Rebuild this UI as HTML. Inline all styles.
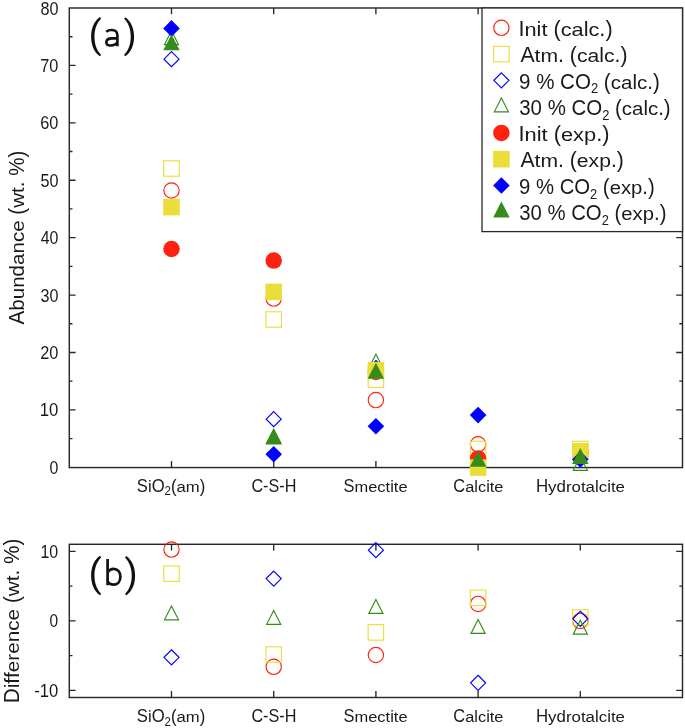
<!DOCTYPE html>
<html><head><meta charset="utf-8"><style>
html,body{margin:0;padding:0;background:#fff;}
body{width:685px;height:728px;overflow:hidden;}
svg{display:block;will-change:transform;}
text{font-family:"Liberation Sans", sans-serif;white-space:pre;font-kerning:none;}
</style></head><body>
<svg width="685" height="728" viewBox="0 0 685 728">
<rect width="685" height="728" fill="#fff"/>
<path d="M69.3 409.89h6.3M682.5 409.89h-6.3" stroke="#282828" stroke-width="1.35"/><path d="M69.3 352.48h6.3M682.5 352.48h-6.3" stroke="#282828" stroke-width="1.35"/><path d="M69.3 295.06h6.3M682.5 295.06h-6.3" stroke="#282828" stroke-width="1.35"/><path d="M69.3 237.65h6.3M682.5 237.65h-6.3" stroke="#282828" stroke-width="1.35"/><path d="M69.3 180.24h6.3M682.5 180.24h-6.3" stroke="#282828" stroke-width="1.35"/><path d="M69.3 122.82h6.3M682.5 122.82h-6.3" stroke="#282828" stroke-width="1.35"/><path d="M69.3 65.41h6.3M682.5 65.41h-6.3" stroke="#282828" stroke-width="1.35"/><path d="M69.3 438.59h3.2M682.5 438.59h-3.2" stroke="#282828" stroke-width="1.35"/><path d="M69.3 381.18h3.2M682.5 381.18h-3.2" stroke="#282828" stroke-width="1.35"/><path d="M69.3 323.77h3.2M682.5 323.77h-3.2" stroke="#282828" stroke-width="1.35"/><path d="M69.3 266.36h3.2M682.5 266.36h-3.2" stroke="#282828" stroke-width="1.35"/><path d="M69.3 208.94h3.2M682.5 208.94h-3.2" stroke="#282828" stroke-width="1.35"/><path d="M69.3 151.53h3.2M682.5 151.53h-3.2" stroke="#282828" stroke-width="1.35"/><path d="M69.3 94.12h3.2M682.5 94.12h-3.2" stroke="#282828" stroke-width="1.35"/><path d="M69.3 36.71h3.2M682.5 36.71h-3.2" stroke="#282828" stroke-width="1.35"/><path d="M171.5 8v6.3M171.5 467.3v-6.3" stroke="#282828" stroke-width="1.35"/><path d="M273.7 8v6.3M273.7 467.3v-6.3" stroke="#282828" stroke-width="1.35"/><path d="M375.9 8v6.3M375.9 467.3v-6.3" stroke="#282828" stroke-width="1.35"/><path d="M478.1 8v6.3M478.1 467.3v-6.3" stroke="#282828" stroke-width="1.35"/><path d="M580.3 8v6.3M580.3 467.3v-6.3" stroke="#282828" stroke-width="1.35"/><rect x="69.3" y="8" width="613.2" height="459.55" fill="none" stroke="#282828" stroke-width="1.45"/><rect x="482" y="8" width="200.5" height="223.6" fill="#fff" stroke="#282828" stroke-width="1.3"/><g transform="translate(49.58,473.9) scale(0.9085,1)" fill="#1a1a1a"><text x="0" y="0" font-size="17.5">0</text></g><g transform="translate(39.82,416.49) scale(0.9571,1)" fill="#1a1a1a"><text x="0" y="0" font-size="17.5">10</text></g><g transform="translate(40.28,359.08) scale(0.9329,1)" fill="#1a1a1a"><text x="0" y="0" font-size="17.5">20</text></g><g transform="translate(40.49,301.66) scale(0.9219,1)" fill="#1a1a1a"><text x="0" y="0" font-size="17.5">30</text></g><g transform="translate(40.74,244.25) scale(0.9086,1)" fill="#1a1a1a"><text x="0" y="0" font-size="17.5">40</text></g><g transform="translate(40.45,186.84) scale(0.9236,1)" fill="#1a1a1a"><text x="0" y="0" font-size="17.5">50</text></g><g transform="translate(40.27,129.42) scale(0.9333,1)" fill="#1a1a1a"><text x="0" y="0" font-size="17.5">60</text></g><g transform="translate(40.26,72.01) scale(0.9338,1)" fill="#1a1a1a"><text x="0" y="0" font-size="17.5">70</text></g><g transform="translate(40.4,14.6) scale(0.9267,1)" fill="#1a1a1a"><text x="0" y="0" font-size="17.5">80</text></g><g transform="translate(136.84,491.7) scale(0.9524,1)" fill="#1a1a1a"><text x="0" y="0" font-size="17.5">S</text><text transform="translate(11.67,0) scale(1,0.92)" font-size="17.5">i</text><text x="15.56" y="0" font-size="17.5">O</text><text x="29.17" y="3.6" font-size="12">2</text><text x="35.85" y="0" font-size="17.5">(</text><text transform="translate(41.67,0) scale(1,0.85)" font-size="17.5">am</text><text x="65.98" y="0" font-size="17.5">)</text></g><g transform="translate(251.38,491.7) scale(0.9268,1)" fill="#1a1a1a"><text x="0" y="0" font-size="17.5">C-S-H</text></g><g transform="translate(343.55,491.7) scale(0.9398,1)" fill="#1a1a1a"><text x="0" y="0" font-size="17.5">S</text><text transform="translate(11.67,0) scale(1,0.85)" font-size="17.5">mec</text><text transform="translate(44.73,0) scale(1,0.83)" font-size="17.5">t</text><text transform="translate(49.59,0) scale(1,0.92)" font-size="17.5">i</text><text transform="translate(53.48,0) scale(1,0.83)" font-size="17.5">t</text><text transform="translate(58.34,0) scale(1,0.85)" font-size="17.5">e</text></g><g transform="translate(453.37,491.7) scale(0.9358,1)" fill="#1a1a1a"><text x="0" y="0" font-size="17.5">C</text><text transform="translate(12.64,0) scale(1,0.85)" font-size="17.5">a</text><text transform="translate(22.37,0) scale(1,0.95)" font-size="17.5">l</text><text transform="translate(26.26,0) scale(1,0.85)" font-size="17.5">c</text><text transform="translate(35.01,0) scale(1,0.92)" font-size="17.5">i</text><text transform="translate(38.9,0) scale(1,0.83)" font-size="17.5">t</text><text transform="translate(43.76,0) scale(1,0.85)" font-size="17.5">e</text></g><g transform="translate(535.92,491.7) scale(0.9636,1)" fill="#1a1a1a"><text x="0" y="0" font-size="17.5">H</text><text transform="translate(12.64,0) scale(1,0.85)" font-size="17.5">y</text><text transform="translate(21.39,0) scale(1,0.95)" font-size="17.5">d</text><text transform="translate(31.12,0) scale(1,0.85)" font-size="17.5">ro</text><text transform="translate(46.68,0) scale(1,0.83)" font-size="17.5">t</text><text transform="translate(51.54,0) scale(1,0.85)" font-size="17.5">a</text><text transform="translate(61.28,0) scale(1,0.95)" font-size="17.5">l</text><text transform="translate(65.16,0) scale(1,0.85)" font-size="17.5">c</text><text transform="translate(73.91,0) scale(1,0.92)" font-size="17.5">i</text><text transform="translate(77.8,0) scale(1,0.83)" font-size="17.5">t</text><text transform="translate(82.66,0) scale(1,0.85)" font-size="17.5">e</text></g><g transform="translate(136.84,722.3) scale(0.9524,1)" fill="#1a1a1a"><text x="0" y="0" font-size="17.5">S</text><text transform="translate(11.67,0) scale(1,0.92)" font-size="17.5">i</text><text x="15.56" y="0" font-size="17.5">O</text><text x="29.17" y="3.6" font-size="12">2</text><text x="35.85" y="0" font-size="17.5">(</text><text transform="translate(41.67,0) scale(1,0.85)" font-size="17.5">am</text><text x="65.98" y="0" font-size="17.5">)</text></g><g transform="translate(251.38,722.3) scale(0.9268,1)" fill="#1a1a1a"><text x="0" y="0" font-size="17.5">C-S-H</text></g><g transform="translate(343.55,722.3) scale(0.9398,1)" fill="#1a1a1a"><text x="0" y="0" font-size="17.5">S</text><text transform="translate(11.67,0) scale(1,0.85)" font-size="17.5">mec</text><text transform="translate(44.73,0) scale(1,0.83)" font-size="17.5">t</text><text transform="translate(49.59,0) scale(1,0.92)" font-size="17.5">i</text><text transform="translate(53.48,0) scale(1,0.83)" font-size="17.5">t</text><text transform="translate(58.34,0) scale(1,0.85)" font-size="17.5">e</text></g><g transform="translate(453.37,722.3) scale(0.9358,1)" fill="#1a1a1a"><text x="0" y="0" font-size="17.5">C</text><text transform="translate(12.64,0) scale(1,0.85)" font-size="17.5">a</text><text transform="translate(22.37,0) scale(1,0.95)" font-size="17.5">l</text><text transform="translate(26.26,0) scale(1,0.85)" font-size="17.5">c</text><text transform="translate(35.01,0) scale(1,0.92)" font-size="17.5">i</text><text transform="translate(38.9,0) scale(1,0.83)" font-size="17.5">t</text><text transform="translate(43.76,0) scale(1,0.85)" font-size="17.5">e</text></g><g transform="translate(535.92,722.3) scale(0.9636,1)" fill="#1a1a1a"><text x="0" y="0" font-size="17.5">H</text><text transform="translate(12.64,0) scale(1,0.85)" font-size="17.5">y</text><text transform="translate(21.39,0) scale(1,0.95)" font-size="17.5">d</text><text transform="translate(31.12,0) scale(1,0.85)" font-size="17.5">ro</text><text transform="translate(46.68,0) scale(1,0.83)" font-size="17.5">t</text><text transform="translate(51.54,0) scale(1,0.85)" font-size="17.5">a</text><text transform="translate(61.28,0) scale(1,0.95)" font-size="17.5">l</text><text transform="translate(65.16,0) scale(1,0.85)" font-size="17.5">c</text><text transform="translate(73.91,0) scale(1,0.92)" font-size="17.5">i</text><text transform="translate(77.8,0) scale(1,0.83)" font-size="17.5">t</text><text transform="translate(82.66,0) scale(1,0.85)" font-size="17.5">e</text></g><g transform="translate(24.3,324.44) rotate(-90) scale(0.9432,1)" fill="#1a1a1a"><text x="0" y="0" font-size="21.8">A</text><text transform="translate(14.54,0) scale(1,0.95)" font-size="21.8">b</text><text transform="translate(26.66,0) scale(1,0.85)" font-size="21.8">un</text><text transform="translate(50.91,0) scale(1,0.95)" font-size="21.8">d</text><text transform="translate(63.04,0) scale(1,0.85)" font-size="21.8">ance </text><text x="116.37" y="0" font-size="21.8">(</text><text transform="translate(123.63,0) scale(1,0.85)" font-size="21.8">w</text><text transform="translate(139.37,0) scale(1,0.83)" font-size="21.8">t</text><text x="145.43" y="0" font-size="21.8">. %)</text></g><path d="M99.61 17.3 C94.27 21.17 91.1 28.14 91.1 36.65 C91.1 45.16 94.27 52.13 99.61 56 C100.31 56 101 55.42 101 54.65 C96.84 50.2 94.47 44.39 94.47 36.65 C94.47 28.91 96.84 23.11 101 18.65 C101 17.88 100.31 17.3 99.61 17.3 Z" fill="#111"/><path d="M106.2 31.7C107.7 30.5 109.5 30.05 111.6 30.05C115.5 30.05 117.4 31.9 117.4 35.3L117.4 46.3M117.4 38.35L112 38.35C108.3 38.35 106.35 39.8 106.35 42.2C106.35 44.4 108.1 45.5 110.6 45.5C113.5 45.5 116.1 44.3 117.4 42.1" fill="none" stroke="#111" stroke-width="2.6"/><path d="M125.59 17.4 C130.93 21.27 134.1 28.24 134.1 36.75 C134.1 45.26 130.93 52.23 125.59 56.1 C124.89 56.1 124.2 55.52 124.2 54.75 C128.36 50.3 130.73 44.49 130.73 36.75 C130.73 29.01 128.36 23.2 124.2 18.75 C124.2 17.98 124.89 17.4 125.59 17.4 Z" fill="#111"/><circle cx="501.4" cy="27.8" r="7.67" fill="none" stroke="#ff2211" stroke-width="1.15"/><g transform="translate(518.5,36) scale(0.9965,1)" fill="#1a1a1a"><text x="0" y="0" font-size="21.8">I</text><text transform="translate(6.06,0) scale(1,0.85)" font-size="21.8">n</text><text transform="translate(18.18,0) scale(1,0.92)" font-size="21.8">i</text><text transform="translate(23.02,0) scale(1,0.83)" font-size="21.8">t </text><text x="35.14" y="0" font-size="21.8">(</text><text transform="translate(42.4,0) scale(1,0.85)" font-size="21.8">ca</text><text transform="translate(65.42,0) scale(1,0.95)" font-size="21.8">l</text><text transform="translate(70.26,0) scale(1,0.85)" font-size="21.8">c</text><text x="81.16" y="0" font-size="21.8">.)</text></g><rect x="493.67" y="46.35" width="15.45" height="15.45" fill="none" stroke="#ecde3a" stroke-width="1.15"/><g transform="translate(520.46,62.28) scale(0.9713,1)" fill="#1a1a1a"><text x="0" y="0" font-size="21.8">A</text><text transform="translate(14.54,0) scale(1,0.83)" font-size="21.8">t</text><text transform="translate(20.6,0) scale(1,0.85)" font-size="21.8">m</text><text x="38.76" y="0" font-size="21.8">. (</text><text transform="translate(58.13,0) scale(1,0.85)" font-size="21.8">ca</text><text transform="translate(81.15,0) scale(1,0.95)" font-size="21.8">l</text><text transform="translate(86,0) scale(1,0.85)" font-size="21.8">c</text><text x="96.9" y="0" font-size="21.8">.)</text></g><path d="M501.4 72.84L508.92 80.36L501.4 87.88L493.88 80.36Z" fill="none" stroke="#0000ff" stroke-width="1.15"/><g transform="translate(519.04,88.56) scale(0.9420,1)" fill="#1a1a1a"><text x="0" y="0" font-size="21.8">9 % CO</text><text x="76.32" y="4.9" font-size="13.8">2</text><text x="84" y="0" font-size="21.8"> (</text><text transform="translate(97.31,0) scale(1,0.85)" font-size="21.8">ca</text><text transform="translate(120.34,0) scale(1,0.95)" font-size="21.8">l</text><text transform="translate(125.18,0) scale(1,0.85)" font-size="21.8">c</text><text x="136.08" y="0" font-size="21.8">.)</text></g><path d="M501.4 97.99L508.45 111.81L494.35 111.81Z" fill="none" stroke="#358c1a" stroke-width="1.15" stroke-linejoin="miter"/><g transform="translate(519.22,114.84) scale(0.9376,1)" fill="#1a1a1a"><text x="0" y="0" font-size="21.8">30 % CO</text><text x="88.45" y="4.9" font-size="13.8">2</text><text x="96.12" y="0" font-size="21.8"> (</text><text transform="translate(109.44,0) scale(1,0.85)" font-size="21.8">ca</text><text transform="translate(132.46,0) scale(1,0.95)" font-size="21.8">l</text><text transform="translate(137.3,0) scale(1,0.85)" font-size="21.8">c</text><text x="148.2" y="0" font-size="21.8">.)</text></g><circle cx="501.4" cy="132.92" r="8.25" fill="#ff2211"/><g transform="translate(518.49,141.12) scale(1.0012,1)" fill="#1a1a1a"><text x="0" y="0" font-size="21.8">I</text><text transform="translate(6.06,0) scale(1,0.85)" font-size="21.8">n</text><text transform="translate(18.18,0) scale(1,0.92)" font-size="21.8">i</text><text transform="translate(23.02,0) scale(1,0.83)" font-size="21.8">t </text><text x="35.14" y="0" font-size="21.8">(</text><text transform="translate(42.4,0) scale(1,0.85)" font-size="21.8">exp</text><text x="77.55" y="0" font-size="21.8">.)</text></g><rect x="493.1" y="150.9" width="16.6" height="16.6" fill="#ecde3a"/><g transform="translate(520.46,167.4) scale(0.9696,1)" fill="#1a1a1a"><text x="0" y="0" font-size="21.8">A</text><text transform="translate(14.54,0) scale(1,0.83)" font-size="21.8">t</text><text transform="translate(20.6,0) scale(1,0.85)" font-size="21.8">m</text><text x="38.76" y="0" font-size="21.8">. (</text><text transform="translate(58.13,0) scale(1,0.85)" font-size="21.8">exp</text><text x="93.28" y="0" font-size="21.8">.)</text></g><path d="M501.4 177.18L509.7 185.48L501.4 193.78L493.1 185.48Z" fill="#0000ff"/><g transform="translate(519.05,193.68) scale(0.9309,1)" fill="#1a1a1a"><text x="0" y="0" font-size="21.8">9 % CO</text><text x="76.32" y="4.9" font-size="13.8">2</text><text x="84" y="0" font-size="21.8"> (</text><text transform="translate(97.31,0) scale(1,0.85)" font-size="21.8">exp</text><text x="132.46" y="0" font-size="21.8">.)</text></g><path d="M501.4 201.61L509.65 217.51L493.15 217.51Z" fill="#358c1a"/><g transform="translate(519.23,219.96) scale(0.9324,1)" fill="#1a1a1a"><text x="0" y="0" font-size="21.8">30 % CO</text><text x="88.45" y="4.9" font-size="13.8">2</text><text x="96.12" y="0" font-size="21.8"> (</text><text transform="translate(109.44,0) scale(1,0.85)" font-size="21.8">exp</text><text x="144.58" y="0" font-size="21.8">.)</text></g><circle cx="171.5" cy="190.5" r="7.67" fill="none" stroke="#ff2211" stroke-width="1.15"/><circle cx="273.7" cy="298.6" r="7.67" fill="none" stroke="#ff2211" stroke-width="1.15"/><circle cx="375.9" cy="400.1" r="7.67" fill="none" stroke="#ff2211" stroke-width="1.15"/><circle cx="478.1" cy="444.3" r="7.67" fill="none" stroke="#ff2211" stroke-width="1.15"/><circle cx="580.3" cy="452.2" r="7.67" fill="none" stroke="#ff2211" stroke-width="1.15"/><rect x="163.78" y="160.78" width="15.45" height="15.45" fill="none" stroke="#ecde3a" stroke-width="1.15"/><rect x="265.97" y="311.77" width="15.45" height="15.45" fill="none" stroke="#ecde3a" stroke-width="1.15"/><rect x="368.18" y="372.07" width="15.45" height="15.45" fill="none" stroke="#ecde3a" stroke-width="1.15"/><rect x="470.38" y="441.27" width="15.45" height="15.45" fill="none" stroke="#ecde3a" stroke-width="1.15"/><rect x="572.57" y="441.27" width="15.45" height="15.45" fill="none" stroke="#ecde3a" stroke-width="1.15"/><path d="M171.5 51.68L179.02 59.2L171.5 66.72L163.98 59.2Z" fill="none" stroke="#0000ff" stroke-width="1.15"/><path d="M273.7 411.68L281.22 419.2L273.7 426.72L266.18 419.2Z" fill="none" stroke="#0000ff" stroke-width="1.15"/><path d="M375.9 360.48L383.42 368L375.9 375.52L368.38 368Z" fill="none" stroke="#0000ff" stroke-width="1.15"/><path d="M478.1 458.78L485.62 466.3L478.1 473.82L470.58 466.3Z" fill="none" stroke="#0000ff" stroke-width="1.15"/><path d="M580.3 450.18L587.82 457.7L580.3 465.22L572.78 457.7Z" fill="none" stroke="#0000ff" stroke-width="1.15"/><path d="M171.5 30.8L178.55 44.62L164.45 44.62Z" fill="none" stroke="#358c1a" stroke-width="1.15" stroke-linejoin="miter"/><path d="M273.7 429.15L280.75 442.98L266.65 442.98Z" fill="none" stroke="#358c1a" stroke-width="1.15" stroke-linejoin="miter"/><path d="M375.9 354.2L382.95 368.03L368.85 368.03Z" fill="none" stroke="#358c1a" stroke-width="1.15" stroke-linejoin="miter"/><path d="M478.1 458.8L485.15 472.62L471.05 472.62Z" fill="none" stroke="#358c1a" stroke-width="1.15" stroke-linejoin="miter"/><path d="M580.3 456.5L587.35 470.33L573.25 470.33Z" fill="none" stroke="#358c1a" stroke-width="1.15" stroke-linejoin="miter"/><circle cx="171.5" cy="249" r="8.25" fill="#ff2211"/><circle cx="273.7" cy="260.6" r="8.25" fill="#ff2211"/><circle cx="375.9" cy="372" r="8.25" fill="#ff2211"/><circle cx="478.1" cy="458.4" r="8.25" fill="#ff2211"/><circle cx="580.3" cy="452.2" r="8.25" fill="#ff2211"/><rect x="163.2" y="198.8" width="16.6" height="16.6" fill="#ecde3a"/><rect x="265.4" y="283.6" width="16.6" height="16.6" fill="#ecde3a"/><rect x="367.6" y="362" width="16.6" height="16.6" fill="#ecde3a"/><rect x="469.8" y="459.3" width="16.6" height="16.6" fill="#ecde3a"/><rect x="572" y="443" width="16.6" height="16.6" fill="#ecde3a"/><path d="M171.5 20.1L179.8 28.4L171.5 36.7L163.2 28.4Z" fill="#0000ff"/><path d="M273.7 445.9L282 454.2L273.7 462.5L265.4 454.2Z" fill="#0000ff"/><path d="M375.9 418L384.2 426.3L375.9 434.6L367.6 426.3Z" fill="#0000ff"/><path d="M478.1 406.8L486.4 415.1L478.1 423.4L469.8 415.1Z" fill="#0000ff"/><path d="M580.3 451.1L588.6 459.4L580.3 467.7L572 459.4Z" fill="#0000ff"/><path d="M171.5 34.4L179.75 50.3L163.25 50.3Z" fill="#358c1a"/><path d="M273.7 428.6L281.95 444.5L265.45 444.5Z" fill="#358c1a"/><path d="M375.9 362.8L384.15 378.7L367.65 378.7Z" fill="#358c1a"/><path d="M478.1 450.8L486.35 466.7L469.85 466.7Z" fill="#358c1a"/><path d="M580.3 448L588.55 463.9L572.05 463.9Z" fill="#358c1a"/><path d="M69.3 690.4h6.3M682.5 690.4h-6.3" stroke="#282828" stroke-width="1.35"/><path d="M69.3 620.85h6.3M682.5 620.85h-6.3" stroke="#282828" stroke-width="1.35"/><path d="M69.3 551.3h6.3M682.5 551.3h-6.3" stroke="#282828" stroke-width="1.35"/><path d="M69.3 655.62h3.2M682.5 655.62h-3.2" stroke="#282828" stroke-width="1.35"/><path d="M69.3 586.08h3.2M682.5 586.08h-3.2" stroke="#282828" stroke-width="1.35"/><path d="M171.5 544.3v6.3M171.5 697.2v-6.3" stroke="#282828" stroke-width="1.35"/><path d="M273.7 544.3v6.3M273.7 697.2v-6.3" stroke="#282828" stroke-width="1.35"/><path d="M375.9 544.3v6.3M375.9 697.2v-6.3" stroke="#282828" stroke-width="1.35"/><path d="M478.1 544.3v6.3M478.1 697.2v-6.3" stroke="#282828" stroke-width="1.35"/><path d="M580.3 544.3v6.3M580.3 697.2v-6.3" stroke="#282828" stroke-width="1.35"/><rect x="69.3" y="544.3" width="613.2" height="153.2" fill="none" stroke="#282828" stroke-width="1.45"/><g transform="translate(40.49,557.9) scale(0.9112,1)" fill="#1a1a1a"><text x="0" y="0" font-size="17.5">10</text></g><g transform="translate(49.6,627.45) scale(0.8846,1)" fill="#1a1a1a"><text x="0" y="0" font-size="17.5">0</text></g><g transform="translate(34.26,697) scale(0.9483,1)" fill="#1a1a1a"><text x="0" y="0" font-size="17.5">-10</text></g><g transform="translate(18.6,703.3) rotate(-90) scale(0.9507,1)" fill="#1a1a1a"><text x="0" y="0" font-size="21.8">D</text><text transform="translate(15.74,0) scale(1,0.92)" font-size="21.8">i</text><text transform="translate(20.59,0) scale(1,0.95)" font-size="21.8">ff</text><text transform="translate(32.7,0) scale(1,0.85)" font-size="21.8">erence </text><text x="105.41" y="0" font-size="21.8">(</text><text transform="translate(112.67,0) scale(1,0.85)" font-size="21.8">w</text><text transform="translate(128.42,0) scale(1,0.83)" font-size="21.8">t</text><text x="134.47" y="0" font-size="21.8">. %)</text></g><path d="M99.61 556.1 C94.27 560 91.1 567.02 91.1 575.6 C91.1 584.18 94.27 591.2 99.61 595.1 C100.31 595.1 101 594.51 101 593.74 C96.84 589.25 94.47 583.4 94.47 575.6 C94.47 567.8 96.84 561.95 101 557.47 C101 556.69 100.31 556.1 99.61 556.1 Z" fill="#111"/><path d="M107.6 558.9L107.6 585.3M107.8 572.1C109.2 570 111.2 568.9 113.6 568.9C117.9 568.9 120.4 572.2 120.4 576.8C120.4 581.6 117.6 584.7 113.4 584.7C111 584.7 109 583.6 107.8 581.6" fill="none" stroke="#111" stroke-width="2.7"/><path d="M126.59 556.3 C131.93 560.19 135.1 567.19 135.1 575.75 C135.1 584.31 131.93 591.31 126.59 595.2 C125.89 595.2 125.2 594.62 125.2 593.84 C129.36 589.37 131.73 583.53 131.73 575.75 C131.73 567.97 129.36 562.13 125.2 557.66 C125.2 556.88 125.89 556.3 126.59 556.3 Z" fill="#111"/><circle cx="171.5" cy="549.55" r="7.67" fill="none" stroke="#ff2211" stroke-width="1.15"/><circle cx="273.7" cy="666.8" r="7.67" fill="none" stroke="#ff2211" stroke-width="1.15"/><circle cx="375.9" cy="655" r="7.67" fill="none" stroke="#ff2211" stroke-width="1.15"/><circle cx="478.1" cy="603.9" r="7.67" fill="none" stroke="#ff2211" stroke-width="1.15"/><circle cx="580.3" cy="620.9" r="7.67" fill="none" stroke="#ff2211" stroke-width="1.15"/><rect x="163.78" y="565.92" width="15.45" height="15.45" fill="none" stroke="#ecde3a" stroke-width="1.15"/><rect x="265.97" y="646.77" width="15.45" height="15.45" fill="none" stroke="#ecde3a" stroke-width="1.15"/><rect x="368.18" y="624.67" width="15.45" height="15.45" fill="none" stroke="#ecde3a" stroke-width="1.15"/><rect x="470.38" y="590.07" width="15.45" height="15.45" fill="none" stroke="#ecde3a" stroke-width="1.15"/><rect x="572.57" y="609.67" width="15.45" height="15.45" fill="none" stroke="#ecde3a" stroke-width="1.15"/><path d="M171.5 649.78L179.02 657.3L171.5 664.82L163.98 657.3Z" fill="none" stroke="#0000ff" stroke-width="1.15"/><path d="M273.7 571.08L281.22 578.6L273.7 586.12L266.18 578.6Z" fill="none" stroke="#0000ff" stroke-width="1.15"/><path d="M375.9 542.68L383.42 550.2L375.9 557.72L368.38 550.2Z" fill="none" stroke="#0000ff" stroke-width="1.15"/><path d="M478.1 675.28L485.62 682.8L478.1 690.32L470.58 682.8Z" fill="none" stroke="#0000ff" stroke-width="1.15"/><path d="M580.3 611.28L587.82 618.8L580.3 626.32L572.78 618.8Z" fill="none" stroke="#0000ff" stroke-width="1.15"/><path d="M171.5 606L178.55 619.82L164.45 619.82Z" fill="none" stroke="#358c1a" stroke-width="1.15" stroke-linejoin="miter"/><path d="M273.7 610.5L280.75 624.32L266.65 624.32Z" fill="none" stroke="#358c1a" stroke-width="1.15" stroke-linejoin="miter"/><path d="M375.9 599.6L382.95 613.42L368.85 613.42Z" fill="none" stroke="#358c1a" stroke-width="1.15" stroke-linejoin="miter"/><path d="M478.1 619.6L485.15 633.42L471.05 633.42Z" fill="none" stroke="#358c1a" stroke-width="1.15" stroke-linejoin="miter"/><path d="M580.3 620.3L587.35 634.12L573.25 634.12Z" fill="none" stroke="#358c1a" stroke-width="1.15" stroke-linejoin="miter"/>
</svg>
</body></html>
